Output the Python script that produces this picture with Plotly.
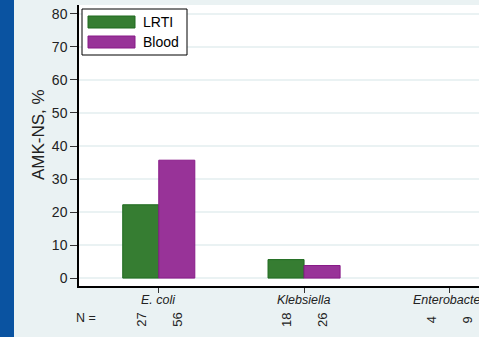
import plotly.graph_objects as go

# Organisms and amikacin non-susceptibility by specimen source
organisms = ["E. coli", "Klebsiella", "Enterobacter"]
lrti_pct = [22.2, 5.6, 0.0]
blood_pct = [35.7, 3.8, 0.0]
lrti_n = [27, 18, 4]
blood_n = [56, 26, 9]

y_ticks = [0, 10, 20, 30, 40, 50, 60, 70, 80]

GREEN = "#367D32"
GREEN_EDGE = "#1F6B1F"
PURPLE = "#983398"
PURPLE_EDGE = "#881A88"
BG = "#EAF2F3"
FONT = "Liberation Sans, Arial, sans-serif"

x_pos = list(range(len(organisms)))
bargap = 0.504
half = (1 - bargap) / 4  # offset of each bar centre from the category centre


def edge_widths(vals):
    # no outline on empty bars
    return [1 if v > 0 else 0 for v in vals]


fig = go.Figure()
fig.add_trace(go.Bar(x=x_pos, y=lrti_pct, name="LRTI",
                     marker=dict(color=GREEN,
                                 line=dict(color=GREEN_EDGE, width=edge_widths(lrti_pct)))))
fig.add_trace(go.Bar(x=x_pos, y=blood_pct, name="Blood",
                     marker=dict(color=PURPLE,
                                 line=dict(color=PURPLE_EDGE, width=edge_widths(blood_pct)))))


def px_x(p):
    return (p - 79) / 400.0


def px_y(p):
    return (286 - p) / 281.0


annotations = [
    dict(text="AMK-NS, %", xref="paper", yref="paper", x=px_x(38), y=px_y(135),
         textangle=-90, xanchor="center", yanchor="middle", showarrow=False,
         font=dict(family=FONT, size=17, color="#222")),
    dict(text="N =", xref="paper", yref="paper", x=px_x(86), y=px_y(318),
         xanchor="center", yanchor="middle", showarrow=False,
         font=dict(family=FONT, size=12.5, color="#222")),
]

# Category labels and rotated sample sizes beneath each bar
for xi, name, nl, nb in zip(x_pos, organisms, lrti_n, blood_n):
    annotations.append(dict(text=f"<i>{name}</i>", x=xi, xref="x", y=px_y(300), yref="paper",
                            showarrow=False, xanchor="center", yanchor="middle",
                            font=dict(family=FONT, size=12.5, color="#222")))
    for dx, n in ((-half, nl), (half, nb)):
        annotations.append(dict(text=str(n), x=xi + dx, xref="x", y=px_y(320), yref="paper",
                                textangle=-90, showarrow=False, xanchor="center",
                                yanchor="middle",
                                font=dict(family=FONT, size=13, color="#222")))

shapes = [
    # left accent strip
    dict(type="rect", xref="paper", yref="paper", x0=px_x(0), x1=px_x(14),
         y0=px_y(337), y1=px_y(0), fillcolor="#0A53A1", line=dict(width=0), layer="above"),
    # legend box and swatches
    dict(type="rect", xref="paper", yref="paper", x0=px_x(82), x1=px_x(187),
         y0=px_y(55), y1=px_y(9), fillcolor="white", line=dict(color="black", width=1),
         layer="above"),
    dict(type="rect", xref="paper", yref="paper", x0=px_x(88), x1=px_x(135),
         y0=px_y(28), y1=px_y(16), fillcolor=GREEN, line=dict(color=GREEN_EDGE, width=1),
         layer="above"),
    dict(type="rect", xref="paper", yref="paper", x0=px_x(88), x1=px_x(135),
         y0=px_y(48), y1=px_y(36), fillcolor=PURPLE, line=dict(color=PURPLE_EDGE, width=1),
         layer="above"),
]
for label, cy in (("LRTI", 22.5), ("Blood", 42.5)):
    annotations.append(dict(text=label, xref="paper", yref="paper", x=px_x(141), y=px_y(cy),
                            xanchor="left", yanchor="middle", showarrow=False,
                            font=dict(family=FONT, size=14, color="black")))

fig.update_layout(
    width=479, height=337,
    margin=dict(l=79, r=0, t=5, b=51),
    paper_bgcolor=BG, plot_bgcolor="white",
    barmode="group", bargap=bargap, bargroupgap=0,
    showlegend=False,
    font=dict(family=FONT, size=14, color="#222"),
    shapes=shapes, annotations=annotations,
    xaxis=dict(range=[-0.549, 2.204], tickvals=x_pos, showticklabels=False,
               showgrid=False, zeroline=False, showline=True, linecolor="black", linewidth=1.5,
               ticks="outside", ticklen=5, tickcolor="#333",
               automargin=False, fixedrange=True),
    yaxis=dict(range=[-2.4, 82.7], tickvals=y_ticks, showgrid=True, gridcolor=BG, gridwidth=1.5,
               zeroline=False, showline=True, linecolor="black", linewidth=1.5,
               ticks="outside", ticklen=7, tickcolor="#333", tickfont=dict(size=14),
               automargin=False, fixedrange=True),
)

fig.write_html("out.html")
